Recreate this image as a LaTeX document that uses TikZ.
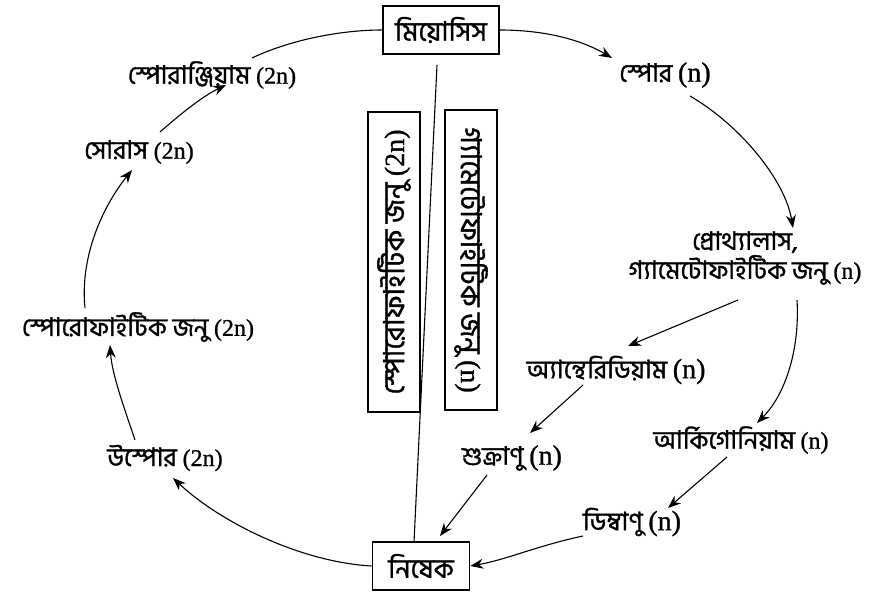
\documentclass[tikz,border=0pt]{standalone}
\usepackage{fontspec}
\newfontfamily\bnfont[Script=Bengali, BoldFont={Hind Siliguri}, BoldFeatures={FakeBold=1.2}]{Hind Siliguri}
\newfontfamily\latfont[BoldFont={Liberation Serif}, BoldFeatures={FakeBold=1.0}]{Liberation Serif}
\usetikzlibrary{arrows.meta}
\newcommand\pn[1]{{\latfont\bfseries\fontsize{28}{30}\selectfont(#1)}}
\newcommand\pns[1]{{\latfont\bfseries\fontsize{24}{26}\selectfont(#1)}}
\begin{document}
\begin{tikzpicture}[x=1pt,y=-1pt,
  lbl/.style={font=\bnfont\bfseries\fontsize{25.5}{29}\selectfont, inner sep=1pt},
  pbox/.style={draw, line width=1.6pt, fill=white, font=\bnfont\bfseries\fontsize{27}{29}\selectfont, inner sep=0pt, minimum width=116pt, minimum height=48pt},
  vbox/.style={draw, line width=1.6pt, fill=white, font=\bnfont\bfseries\fontsize{29}{30}\selectfont, inner sep=0pt, minimum width=300pt, minimum height=52pt},
  arr/.style={-{Stealth[length=13pt,width=10pt]}, line width=1.1pt},
  conn/.style={line width=1.1pt}]
\useasboundingbox (0,0) rectangle (891,592);
\fill[white] (0,0) rectangle (891,592);
% boxes
\node[pbox] (mei) at (441,30) {মিয়োসিস};
\node[pbox, minimum width=97pt] (nis) at (421,566) {নিষেক};
% labels
\node[lbl] (spore) at (665,75) {স্পোর \pn{n}};
\node[lbl, align=center] (proth) at (745,258) {প্রোথ্যালাস,\\গ্যামেটোফাইটিক জনু \pns{n}};
\node[lbl] (anth) at (616,370) {অ্যান্থেরিডিয়াম \pn{n}};
\node[lbl] (arch) at (741,440) {আর্কিগোনিয়াম \pns{n}};
\node[lbl] (sperm) at (512,458) {শুক্রাণু \pn{n}};
\node[lbl] (egg) at (632,522) {ডিম্বাণু \pn{n}};
\node[lbl] (oosp) at (165,458) {উস্পোর \pns{2n}};
\node[lbl] (spgen) at (138,327) {স্পোরোফাইটিক জনু \pns{2n}};
\node[lbl] (sorus) at (139,152) {সোরাস \pns{2n}};
\node[lbl] (sprg) at (212,75) {স্পোরাঞ্জিয়াম \pns{2n}};
% divider
\coordinate (ltop) at (437,65);
\coordinate (lbot) at (414,542);
\draw[conn] (ltop) -- (lbot);
\node[vbox, rotate=90] (vsp) at (394,262) {স্পোরোফাইটিক জনু \pn{2n}};
\node[vbox, rotate=-90] (vga) at (471,260) {গ্যামেটোফাইটিক জনু \pn{n}};
% anchor coordinates on labels
\coordinate (a1) at (612,58);
\coordinate (b2) at (690,96);
\coordinate (a2) at (793,228);
\coordinate (b3) at (738,300);
\coordinate (a3) at (628,346);
\coordinate (b4) at (797,300);
\coordinate (a4) at (757,423);
\coordinate (b5) at (583,385);
\coordinate (a5) at (530,433);
\coordinate (b6) at (727,457);
\coordinate (a6) at (668,508);
\coordinate (b7) at (487,475);
\coordinate (a7) at (440,536);
\coordinate (b8) at (583,536);
\coordinate (a9) at (173,478);
\coordinate (b10) at (135,440);
\coordinate (a10) at (110,345);
\coordinate (b11) at (85,308);
\coordinate (a11) at (132,170);
\coordinate (b12) at (160,132);
\coordinate (a12) at (226,85);
\coordinate (b13) at (252,58);
% connectors
\draw[arr] (mei.east) .. controls (550,30) and (585,42) .. (a1);
\draw[arr] (b2) .. controls (740,125) and (785,180) .. (a2);
\draw[arr] (b3) -- (a3);
\draw[arr] (b4) .. controls (800,350) and (785,395) .. (a4);
\draw[arr] (b5) -- (a5);
\draw[arr] (b6) -- (a6);
\draw[arr] (b7) -- (a7);
\draw[arr] (b8) .. controls (540,545) and (505,560) .. (nis.east);
\draw[arr] (nis.west) .. controls (300,562) and (220,522) .. (a9);
\draw[arr] (b10) .. controls (125,410) and (112,375) .. (a10);
\draw[arr] (b11) .. controls (80,260) and (100,210) .. (a11);
\draw[arr] (b12) .. controls (185,110) and (205,95) .. (a12);
\draw[conn] (b13) .. controls (290,40) and (340,30) .. (mei.west);
\end{tikzpicture}
\end{document}
